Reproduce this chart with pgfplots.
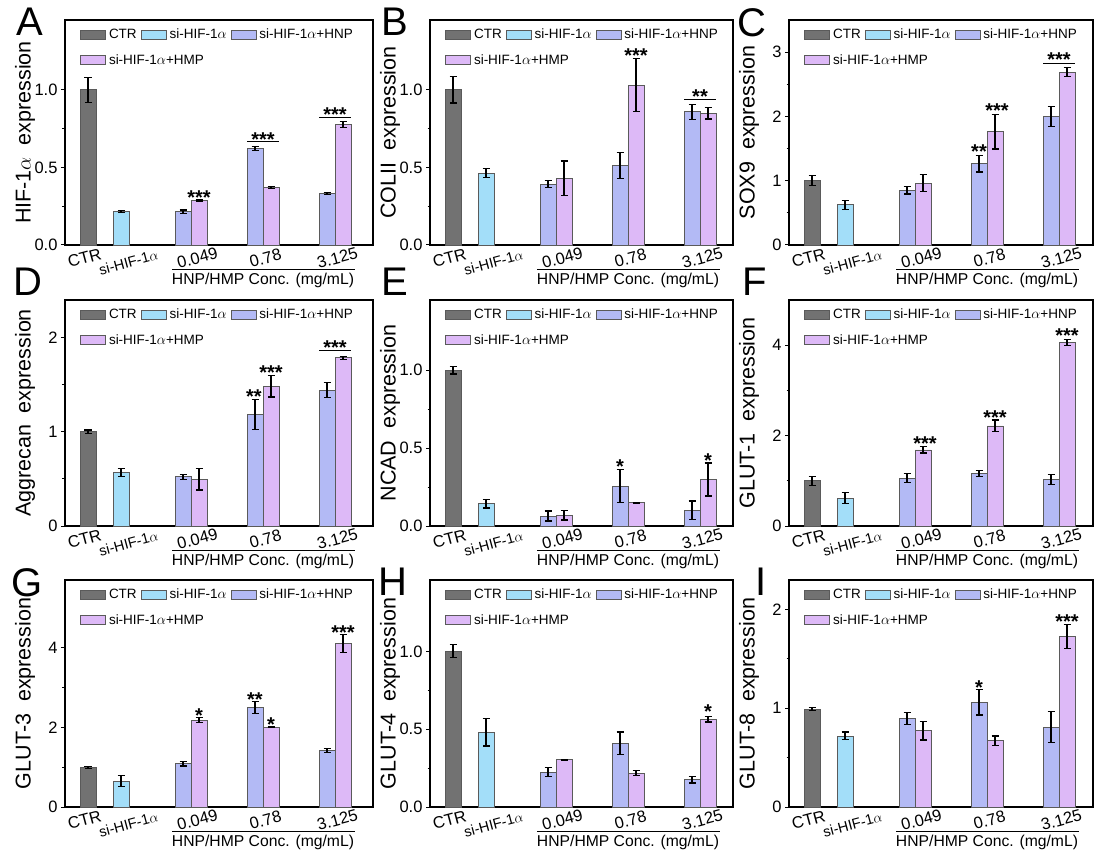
\documentclass[border=0pt]{standalone}
\usepackage{pgfplots}
\pgfplotsset{compat=1.18}
\usepackage{fontspec}
\setmainfont{Liberation Sans}
\definecolor{ctrc}{HTML}{727272}
\definecolor{sic}{HTML}{A3DEF9}
\definecolor{hnpc}{HTML}{B3BAF5}
\definecolor{hmpc}{HTML}{DDB9F7}
\definecolor{edge}{HTML}{5A5A5A}
\newcommand{\fs}[1]{\fontsize{#1}{#1}\selectfont}
\pgfplotsset{
  mylegend/.style={legend image code/.code={\draw[##1] (0pt,-4.5pt) rectangle (25pt,4.5pt);}},
  barbase/.style={ybar, bar width=16, bar shift=0pt, draw=edge, line width=0.8pt, mylegend,
    /pgfplots/error bars/y dir=both, /pgfplots/error bars/y explicit,
    /pgfplots/error bars/error bar style={line width=1.2pt, black, solid},
    /pgfplots/error bars/error mark options={rotate=90, mark size=3.5pt, line width=1.2pt, black}},
  ctr/.style={barbase, fill=ctrc},
  si/.style={barbase, fill=sic},
  hnp/.style={barbase, fill=hnpc},
  hmp/.style={barbase, fill=hmpc},
  panel/.style={scale only axis, anchor=north west, xmin=0, ymin=0, clip=false,
    axis line style={line width=1.8pt},
    xtick={17,60,130,198,270},
    xticklabels={CTR,{\rule{0pt}{15.5pt}\fs{14.5}si-HIF-1$\alpha$},0.049,0.78,3.125},
    x tick label style={rotate=15, anchor=north, font=\fs{16.5}},
    major x tick style={draw=none}, minor x tick num=0,
    ytick pos=left, tick align=outside, major tick length=4pt, minor tick length=2.5pt,
    tick style={line width=1pt, black},
    minor y tick num=1,
    y tick label style={font=\fs{16.5}}, /pgf/number format/assume math mode=true,
    every axis y label/.style={at={(rel axis cs:0,0.5)}, rotate=90, anchor=center, yshift=40pt, font=\fs{21.5}},
    legend columns=3, legend cell align=left,
    legend style={at={(rel axis cs:0,1)}, anchor=north west, xshift=12pt, yshift=-6pt,
      draw=none, fill=none, font=\fs{13.5}, row sep=12pt, nodes={inner sep=1pt},
      /tikz/every even column/.append style={column sep=3pt},
      /tikz/every odd column/.append style={column sep=2pt}},
  },
  dec1/.style={yticklabel style={/pgf/number format/.cd, fixed, fixed zerofill, precision=1}},
}
\newcommand{\grp}{%
  \draw[line width=0.9pt] ([yshift=-24pt]axis cs:107,0) -- ([yshift=-24pt]axis cs:290,0);
  \node[font=\fs{15.7}] at ([yshift=-35pt]axis cs:198,0) {HNP/HMP Conc. (mg/mL)};
  \legend{CTR, si-HIF-1$\alpha$, si-HIF-1$\alpha$+HNP, {\makebox[0pt][l]{si-HIF-1$\alpha$+HMP}}}}
\newcommand{\st}[3]{\node[font=\fs{20}\bfseries, inner sep=0pt, yshift=-4.3pt] at (axis cs:#1,#2) {#3};}
\newcommand{\sig}[3]{\draw[line width=1pt] (axis cs:#1,#2) -- (axis cs:#3,#2);}
\newcommand{\letter}[2]{\node[anchor=north east, inner sep=0pt, font=\fs{40}] at ([xshift=-22pt,yshift=#2]rel axis cs:0,1) {#1};}
\begin{document}
\begin{tikzpicture}
\path[use as bounding box] (0,0) rectangle (1094pt,-850pt);
% ---------------- A
\begin{axis}[panel, dec1, at={(65pt,-20pt)}, width=308pt, height=225pt, xmax=308, ymax=1.45,
  ytick={0,0.5,1.0}, ylabel={HIF-1$\alpha$\ \ expression}]
\addplot[ctr] coordinates {(23,1.00) +- (0,0.08)};
\addplot[si] coordinates {(56,0.214) +- (0,0.006)};
\addplot[hnp] coordinates {(118,0.214) +- (0,0.012) (190,0.621) +- (0,0.012) (262,0.332) +- (0,0.005)};
\addplot[hmp] coordinates {(134,0.289) +- (0,0.005) (206,0.370) +- (0,0.006) (278,0.775) +- (0,0.02)};
\grp
\st{134}{0.336}{***}
\sig{182}{0.664}{214}\st{198}{0.707}{***}
\sig{254}{0.82}{286}\st{270}{0.867}{***}
\letter{A}{12pt}
\end{axis}
% ---------------- B
\begin{axis}[panel, dec1, at={(430pt,-20pt)}, width=303pt, height=225pt, xmax=303, ymax=1.45,
  ytick={0,0.5,1.0}, ylabel={COLII\ \ expression}]
\addplot[ctr] coordinates {(23,1.00) +- (0,0.085)};
\addplot[si] coordinates {(56,0.464) +- (0,0.027)};
\addplot[hnp] coordinates {(118,0.393) +- (0,0.023) (190,0.511) +- (0,0.085) (262,0.858) +- (0,0.047)};
\addplot[hmp] coordinates {(134,0.431) +- (0,0.11) (206,1.03) +- (0,0.17) (278,0.85) +- (0,0.038)};
\grp
\st{206}{1.251}{***}
\sig{254}{0.936}{286}\st{270}{0.983}{**}
\letter{B}{12pt}
\end{axis}
% ---------------- C
\begin{axis}[panel, at={(789pt,-20pt)}, width=304pt, height=225pt, xmax=304, ymax=3.5,
  ytick={0,1,2,3}, ylabel={SOX9\ \ expression}]
\addplot[ctr] coordinates {(23,1.00) +- (0,0.078)};
\addplot[si] coordinates {(56,0.626) +- (0,0.07)};
\addplot[hnp] coordinates {(118,0.854) +- (0,0.06) (190,1.267) +- (0,0.13) (262,1.997) +- (0,0.155)};
\addplot[hmp] coordinates {(134,0.962) +- (0,0.13) (206,1.764) +- (0,0.27) (278,2.69) +- (0,0.07)};
\grp
\st{190}{1.516}{**}\st{208}{2.152}{***}
\sig{254}{2.825}{286}\st{270}{2.949}{***}
\letter{C}{12pt}
\end{axis}
% ---------------- D
\begin{axis}[panel, at={(65pt,-300pt)}, width=308pt, height=226pt, xmax=308, ymax=2.4,
  ytick={0,1,2}, ylabel={Aggrecan\ \ expression}]
\addplot[ctr] coordinates {(23,1.00) +- (0,0.02)};
\addplot[si] coordinates {(56,0.569) +- (0,0.044)};
\addplot[hnp] coordinates {(118,0.523) +- (0,0.026) (190,1.184) +- (0,0.16) (262,1.442) +- (0,0.078)};
\addplot[hmp] coordinates {(134,0.498) +- (0,0.115) (206,1.484) +- (0,0.115) (278,1.788) +- (0,0.016)};
\grp
\st{189}{1.424}{**}\st{206}{1.671}{***}
\sig{254}{1.859}{286}\st{270}{1.936}{***}
\letter{D}{32pt}
\end{axis}
% ---------------- E
\begin{axis}[panel, dec1, at={(430pt,-300pt)}, width=303pt, height=226pt, xmax=303, ymax=1.45,
  ytick={0,0.5,1.0}, ylabel={NCAD\ \ expression}]
\addplot[ctr] coordinates {(23,1.00) +- (0,0.025)};
\addplot[si] coordinates {(56,0.143) +- (0,0.028)};
\addplot[hnp] coordinates {(118,0.064) +- (0,0.032) (190,0.255) +- (0,0.106) (262,0.10) +- (0,0.06)};
\addplot[hmp] coordinates {(134,0.07) +- (0,0.032) (206,0.149) +- (0,0.003) (278,0.298) +- (0,0.106)};
\grp
\st{190}{0.408}{*}\st{278}{0.447}{*}
\letter{E}{32pt}
\end{axis}
% ---------------- F
\begin{axis}[panel, at={(789pt,-300pt)}, width=304pt, height=226pt, xmax=304, ymax=5.0,
  ytick={0,2,4}, ylabel={GLUT-1\ \ expression}]
\addplot[ctr] coordinates {(23,1.004) +- (0,0.1)};
\addplot[si] coordinates {(56,0.613) +- (0,0.12)};
\addplot[hnp] coordinates {(118,1.055) +- (0,0.1) (190,1.166) +- (0,0.066) (262,1.033) +- (0,0.11)};
\addplot[hmp] coordinates {(134,1.683) +- (0,0.07) (206,2.214) +- (0,0.13) (278,4.06) +- (0,0.074)};
\grp
\st{136}{1.919}{***}\st{206}{2.494}{***}\st{278}{4.30}{***}
\letter{F}{32pt}
\end{axis}
% ---------------- G
\begin{axis}[panel, at={(65pt,-580pt)}, width=308pt, height=227pt, xmax=308, ymax=5.7,
  ytick={0,2,4}, ylabel={GLUT-3\ \ expression}]
\addplot[ctr] coordinates {(23,0.99) +- (0,0.02)};
\addplot[si] coordinates {(56,0.645) +- (0,0.14)};
\addplot[hnp] coordinates {(118,1.09) +- (0,0.06) (190,2.49) +- (0,0.15) (262,1.425) +- (0,0.05)};
\addplot[hmp] coordinates {(134,2.18) +- (0,0.06) (206,2.0) +- (0,0.01) (278,4.11) +- (0,0.23)};
\grp
\st{134}{2.414}{*}\st{190}{2.808}{**}\st{206}{2.18}{*}\st{278}{4.485}{***}
\letter{G}{12pt}
\end{axis}
% ---------------- H
\begin{axis}[panel, dec1, at={(430pt,-580pt)}, width=303pt, height=227pt, xmax=303, ymax=1.46,
  ytick={0,0.5,1.0}, ylabel={GLUT-4\ \ expression}]
\addplot[ctr] coordinates {(23,1.004) +- (0,0.043)};
\addplot[si] coordinates {(56,0.48) +- (0,0.088)};
\addplot[hnp] coordinates {(118,0.225) +- (0,0.03) (190,0.411) +- (0,0.072) (262,0.176) +- (0,0.021)};
\addplot[hmp] coordinates {(134,0.304) +- (0,0.004) (206,0.218) +- (0,0.015) (278,0.565) +- (0,0.018)};
\grp
\st{278}{0.64}{*}
\letter{H}{12pt}
\end{axis}
% ---------------- I
\begin{axis}[panel, at={(789pt,-580pt)}, width=304pt, height=227pt, xmax=304, ymax=2.3,
  ytick={0,1,2}, ylabel={GLUT-8\ \ expression}]
\addplot[ctr] coordinates {(23,0.99) +- (0,0.015)};
\addplot[si] coordinates {(56,0.72) +- (0,0.04)};
\addplot[hnp] coordinates {(118,0.898) +- (0,0.058) (190,1.06) +- (0,0.127) (262,0.81) +- (0,0.158)};
\addplot[hmp] coordinates {(134,0.773) +- (0,0.095) (206,0.67) +- (0,0.05) (278,1.73) +- (0,0.12)};
\grp
\st{190}{1.258}{*}\st{278}{1.922}{***}
\letter{I}{12pt}
\end{axis}
\end{tikzpicture}
\end{document}
